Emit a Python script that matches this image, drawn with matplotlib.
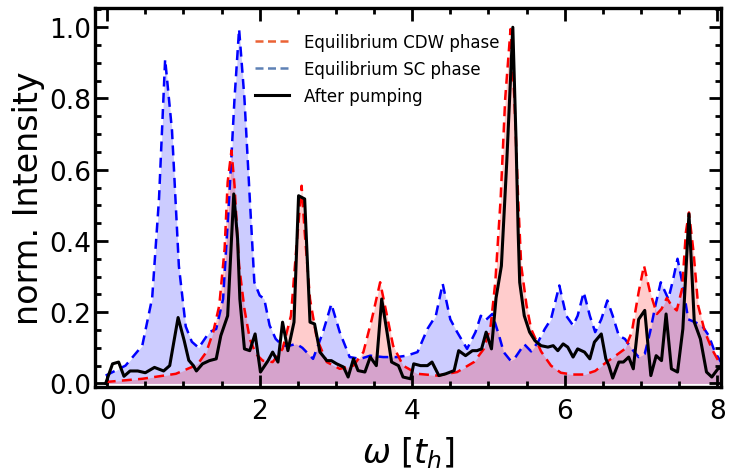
import matplotlib
matplotlib.use("Agg")
import matplotlib.pyplot as plt
from matplotlib.lines import Line2D
from matplotlib.ticker import MultipleLocator

# equilibrium CDW phase (red dashed)
w_cdw = [-0.02, 0.46, 0.90, 1.11, 1.20, 1.30, 1.39, 1.47, 1.54, 1.58, 1.63, 1.67, 1.73, 1.80,
         1.87, 1.95, 2.04, 2.17, 2.30, 2.41, 2.48, 2.55, 2.59, 2.66, 2.75, 2.88, 3.05, 3.23,
         3.36, 3.47, 3.58, 3.67, 3.75, 3.88, 4.07, 4.33, 4.59, 4.81, 4.94, 5.03, 5.09, 5.16,
         5.22, 5.29, 5.34, 5.39, 5.43, 5.50, 5.56, 5.69, 5.82, 5.95, 6.10, 6.26, 6.40, 6.55,
         6.65, 6.79, 6.88, 6.97, 7.04, 7.12, 7.21, 7.27, 7.34, 7.40, 7.47, 7.54, 7.59, 7.63,
         7.69, 7.75, 7.84, 7.93, 8.05]
i_cdw = [0.004, 0.013, 0.027, 0.046, 0.058, 0.088, 0.144, 0.219, 0.378, 0.565, 0.654, 0.556,
         0.331, 0.209, 0.125, 0.083, 0.064, 0.060, 0.097, 0.190, 0.378, 0.555, 0.425, 0.237,
         0.125, 0.060, 0.041, 0.050, 0.088, 0.180, 0.284, 0.190, 0.106, 0.050, 0.027, 0.022,
         0.032, 0.060, 0.097, 0.163, 0.284, 0.518, 0.800, 0.995, 0.800, 0.518, 0.331, 0.219,
         0.153, 0.090, 0.050, 0.030, 0.025, 0.025, 0.035, 0.060, 0.075, 0.097, 0.144, 0.256,
         0.331, 0.256, 0.195, 0.209, 0.240, 0.219, 0.205, 0.266, 0.425, 0.480, 0.369, 0.219,
         0.144, 0.097, 0.050]

# equilibrium SC phase (blue dashed)
w_sc = [-0.02, 0.24, 0.46, 0.59, 0.68, 0.76, 0.85, 0.94, 1.03, 1.11, 1.20, 1.34, 1.43, 1.52,
        1.60, 1.67, 1.73, 1.80, 1.87, 1.93, 2.00, 2.06, 2.13, 2.21, 2.30, 2.39, 2.48, 2.56,
        2.70, 2.83, 2.94, 3.05, 3.18, 3.32, 3.45, 3.62, 3.80, 3.93, 4.07, 4.20, 4.31, 4.40,
        4.50, 4.59, 4.72, 4.83, 4.90, 4.96, 5.05, 5.14, 5.20, 5.29, 5.34, 5.47, 5.56, 5.65,
        5.74, 5.82, 5.93, 6.02, 6.11, 6.17, 6.25, 6.33, 6.40, 6.48, 6.56, 6.63, 6.71, 6.79,
        6.88, 6.97, 7.05, 7.12, 7.19, 7.26, 7.36, 7.42, 7.48, 7.55, 7.62, 7.71, 7.80, 7.89,
        7.97, 8.05]
i_sc = [0.022, 0.050, 0.106, 0.240, 0.520, 0.910, 0.710, 0.330, 0.160, 0.117, 0.100, 0.144,
        0.153, 0.237, 0.520, 0.800, 0.995, 0.800, 0.520, 0.284, 0.247, 0.237, 0.163, 0.125,
        0.106, 0.106, 0.111, 0.100, 0.069, 0.144, 0.223, 0.144, 0.074, 0.069, 0.078, 0.074,
        0.074, 0.078, 0.088, 0.153, 0.190, 0.280, 0.180, 0.144, 0.097, 0.144, 0.190, 0.177,
        0.195, 0.134, 0.088, 0.064, 0.069, 0.110, 0.090, 0.116, 0.153, 0.180, 0.275, 0.190,
        0.163, 0.190, 0.256, 0.190, 0.144, 0.180, 0.233, 0.190, 0.134, 0.125, 0.097, 0.074,
        0.083, 0.144, 0.219, 0.284, 0.237, 0.290, 0.350, 0.275, 0.180, 0.172, 0.163, 0.134,
        0.088, 0.060]

# after pumping (black solid)
w_pump = [-0.02, 0.07, 0.15, 0.22, 0.30, 0.40, 0.50, 0.62, 0.74, 0.82, 0.93, 1.01, 1.07, 1.13,
          1.17, 1.25, 1.34, 1.43, 1.49, 1.58, 1.66, 1.71, 1.74, 1.80, 1.87, 1.94, 2.01, 2.11,
          2.17, 2.24, 2.30, 2.37, 2.45, 2.51, 2.59, 2.66, 2.72, 2.79, 2.88, 2.94, 3.01, 3.10,
          3.16, 3.23, 3.29, 3.38, 3.45, 3.53, 3.60, 3.67, 3.73, 3.82, 3.88, 3.98, 4.02, 4.11,
          4.20, 4.26, 4.35, 4.44, 4.55, 4.61, 4.70, 4.79, 4.85, 4.91, 4.97, 5.04, 5.10, 5.17,
          5.24, 5.32, 5.36, 5.39, 5.41, 5.47, 5.54, 5.61, 5.69, 5.78, 5.85, 5.91, 5.98, 6.04,
          6.11, 6.17, 6.26, 6.33, 6.39, 6.48, 6.54, 6.58, 6.63, 6.71, 6.77, 6.84, 6.90, 6.97,
          7.05, 7.13, 7.20, 7.27, 7.33, 7.40, 7.48, 7.55, 7.63, 7.70, 7.78, 7.86, 7.93, 8.01,
          8.08]
i_pump = [0.000, 0.055, 0.060, 0.020, 0.035, 0.035, 0.030, 0.045, 0.035, 0.050, 0.185, 0.120,
          0.065, 0.050, 0.035, 0.055, 0.064, 0.069, 0.134, 0.190, 0.532, 0.406, 0.237, 0.097,
          0.092, 0.139, 0.032, 0.064, 0.088, 0.060, 0.172, 0.092, 0.172, 0.527, 0.518, 0.172,
          0.167, 0.088, 0.064, 0.064, 0.055, 0.046, 0.018, 0.069, 0.036, 0.032, 0.074, 0.050,
          0.237, 0.144, 0.060, 0.050, 0.018, 0.013, 0.055, 0.050, 0.050, 0.060, 0.022, 0.027,
          0.036, 0.092, 0.078, 0.092, 0.092, 0.097, 0.144, 0.097, 0.240, 0.330, 0.620, 1.000,
          0.700, 0.425, 0.284, 0.190, 0.144, 0.120, 0.106, 0.102, 0.106, 0.092, 0.111, 0.102,
          0.074, 0.097, 0.088, 0.069, 0.116, 0.139, 0.069, 0.050, 0.015, 0.060, 0.060, 0.074,
          0.041, 0.180, 0.205, 0.022, 0.078, 0.064, 0.195, 0.041, 0.032, 0.153, 0.476, 0.172,
          0.125, 0.032, 0.018, 0.041, 0.046]

labels = ["Equilibrium CDW phase", "Equilibrium SC phase", "After pumping"]

plt.rcParams['font.family'] = ['DejaVu Sans']
plt.rcParams['mathtext.fontset'] = 'dejavusans'

fig = plt.figure(figsize=(7.29, 4.77), dpi=100)
ax = fig.add_axes([0.1303, 0.1866, 0.8587, 0.7945])

ax.fill_between(w_sc, i_sc, 0, color='blue', alpha=0.2, lw=0)
ax.fill_between(w_cdw, i_cdw, 0, color='red', alpha=0.2, lw=0)
ax.plot(w_sc, i_sc, color='blue', lw=1.8, dashes=(4, 2.5))
ax.plot(w_cdw, i_cdw, color='red', lw=1.8, dashes=(4, 2.5))
ax.plot(w_pump, i_pump, color='black', lw=2.2)

ax.set_xlim(-0.16, 8.05)
ax.set_ylim(-0.01, 1.054)

ax.xaxis.set_major_locator(MultipleLocator(2))
ax.xaxis.set_minor_locator(MultipleLocator(0.5))
ax.yaxis.set_major_locator(MultipleLocator(0.2))
ax.yaxis.set_minor_locator(MultipleLocator(0.05))
ax.set_yticks([0, 0.2, 0.4, 0.6, 0.8, 1.0])
ax.set_yticklabels(["0.0", "0.2", "0.4", "0.6", "0.8", "1.0"])

ax.tick_params(which='both', direction='in', top=True, right=True, width=2)
ax.tick_params(which='major', length=9)
ax.tick_params(which='minor', length=4.5)
ax.tick_params(axis='x', which='major', labelsize=19, pad=8)
ax.tick_params(axis='y', which='major', labelsize=19, pad=3)
for s in ax.spines.values():
    s.set_linewidth(2.4)

ax.set_ylabel("norm. Intensity", fontsize=24, labelpad=3)
ax.set_xlabel(r"$\omega\ [t_h]$", fontsize=24, labelpad=7)

handles = [Line2D([], [], color='#EB6235', lw=1.8, dashes=(3.2, 1.8)),
           Line2D([], [], color='#5E81B5', lw=1.8, dashes=(3.2, 1.8)),
           Line2D([], [], color='black', lw=2.2)]
ax.legend(handles, labels, loc='upper left', bbox_to_anchor=(0.256, 0.935),
          frameon=False, fontsize=12, borderpad=0, borderaxespad=0,
          handlelength=2.0, handletextpad=0.9, labelspacing=0.55)

fig.savefig("out.png", dpi=100)
